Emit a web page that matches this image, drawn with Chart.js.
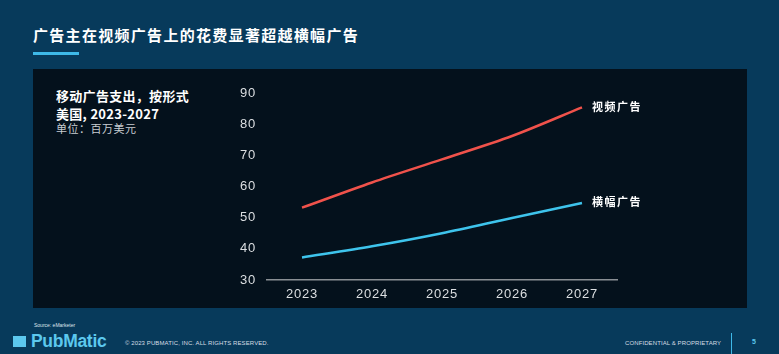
<!DOCTYPE html>
<html>
<head>
<meta charset="utf-8">
<script src="https://cdn.jsdelivr.net/npm/chart.js@4"></script>
<style>
  html, body { margin: 0; padding: 0; }
  body { width: 779px; height: 354px; background: #073a5b; position: relative; overflow: hidden;
         font-family: "Liberation Sans", "Noto Sans CJK SC", sans-serif; color: #fff; }
  .abs { position: absolute; white-space: nowrap; }
  #title { left: 33px; top: 24px; font: bold 15px "Noto Sans CJK SC", sans-serif; letter-spacing: 1.3px; line-height: 22px; }
  #bar { left: 33px; top: 52px; width: 46px; height: 3px; background: #3eb9e8; }
  #panel { left: 33px; top: 69px; width: 714px; height: 239px; background: #04111c; }
  #sub1 { left: 56px; top: 87px; font: bold 13px "Noto Sans CJK SC", sans-serif; line-height: 18px; letter-spacing: 0.3px; }
  #sub3 { left: 56px; top: 122px; font: 11px "Noto Sans CJK SC", sans-serif; color: #c8cdd2; letter-spacing: 0.5px; line-height: 13px; }
  #chartBox { left: 225px; top: 80px; width: 430px; height: 225px; }
  #src { left: 34px; top: 322px; font-size: 5px; color: #dfe6ec; }
  #logoSq { left: 13px; top: 336px; width: 13px; height: 11px; background: #5cc8ee; }
  #logo { left: 31px; top: 331px; font: bold 17.5px "Liberation Sans", sans-serif; color: #5cc8ee; letter-spacing: -0.3px; }
  #copy { left: 125px; top: 340px; font-size: 6px; color: #d5dde4; letter-spacing: 0.1px; }
  #conf { left: 625px; top: 340px; font-size: 6px; color: #d5dde4; letter-spacing: 0.1px; }
  #vline { left: 731px; top: 333px; width: 1px; height: 21px; background: #3eb9e8; }
  #page { left: 752px; top: 338px; font: bold 7px "Liberation Sans", sans-serif; color: #5cc8ee; }
</style>
</head>
<body>
<div class="abs" id="title">广告主在视频广告上的花费显著超越横幅广告</div>
<div class="abs" id="bar"></div>
<div class="abs" id="panel"></div>
<div class="abs" id="sub1">移动广告支出，按形式<br>美国, 2023-2027</div>
<div class="abs" id="sub3">单位：百万美元</div>
<div class="abs" id="chartBox"><canvas id="chart" width="430" height="225"></canvas></div>
<div class="abs" id="src">Source: eMarketer</div>
<div class="abs" id="logoSq"></div>
<div class="abs" id="logo">PubMatic</div>
<div class="abs" id="copy">© 2023 PUBMATIC, INC. ALL RIGHTS RESERVED.</div>
<div class="abs" id="conf">CONFIDENTIAL &amp; PROPRIETARY</div>
<div class="abs" id="vline"></div>
<div class="abs" id="page">5</div>
<script>
const years = ['2023', '2024', '2025', '2026', '2027'];
const videoSpend = [53.2, 61.3, 68.7, 76.2, 85.4];
const bannerSpend = [37.2, 40.8, 45.0, 49.9, 54.7];
const seriesNames = ['视频广告', '横幅广告'];
const yTicks = [30, 40, 50, 60, 70, 80, 90];

// a bit of spacing in the tick numbers, like the slide
const tickSpacing = {
    id: 'tickSpacing',
    beforeDraw(chart) { chart.ctx.letterSpacing = '0.8px'; }
};

// series names written next to the last point
const endLabels = {
    id: 'endLabels',
    afterDatasetsDraw(chart) {
        const ctx = chart.ctx;
        ctx.save();
        ctx.font = 'bold 11px "Noto Sans CJK SC", sans-serif';
        ctx.letterSpacing = '1.5px';
        ctx.fillStyle = '#ffffff';
        ctx.textAlign = 'left';
        ctx.textBaseline = 'middle';
        chart.data.datasets.forEach((ds, i) => {
            const pts = chart.getDatasetMeta(i).data;
            const p = pts[pts.length - 1];
            ctx.fillText(ds.label, p.x + 10, p.y - 1);
        });
        ctx.restore();
    }
};

new Chart(document.getElementById('chart'), {
    type: 'line',
    data: {
        labels: years,
        datasets: [
            { label: seriesNames[0], data: videoSpend, borderColor: '#f0524b', borderWidth: 2.5, pointRadius: 0, tension: 0.3 },
            { label: seriesNames[1], data: bannerSpend, borderColor: '#3ec4ec', borderWidth: 2.5, pointRadius: 0, tension: 0.3 }
        ]
    },
    options: {
        responsive: false,
        animation: false,
        layout: { padding: { top: 13, right: 38, bottom: 0, left: 0 } },
        plugins: { legend: { display: false }, tooltip: { enabled: false } },
        scales: {
            x: {
                offset: true,
                grid: { display: false, drawTicks: false },
                border: { display: true, color: '#8a8f94', width: 1.5 },
                ticks: { color: '#dcdfe2', padding: 7, font: { family: 'Liberation Sans', size: 13 } },
                afterFit(s) { s.height = 25; }
            },
            y: {
                min: 30, max: 90,
                grid: { display: false, drawTicks: false },
                border: { display: false },
                afterBuildTicks(s) { s.ticks = yTicks.map(v => ({ value: v })); },
                ticks: { color: '#dcdfe2', padding: 11, autoSkip: false, font: { family: 'Liberation Sans', size: 13 } },
                afterFit(s) { s.width = 42; s.paddingTop = 0; s.paddingBottom = 0; }
            }
        }
    },
    plugins: [tickSpacing, endLabels]
});
</script>
</body>
</html>
